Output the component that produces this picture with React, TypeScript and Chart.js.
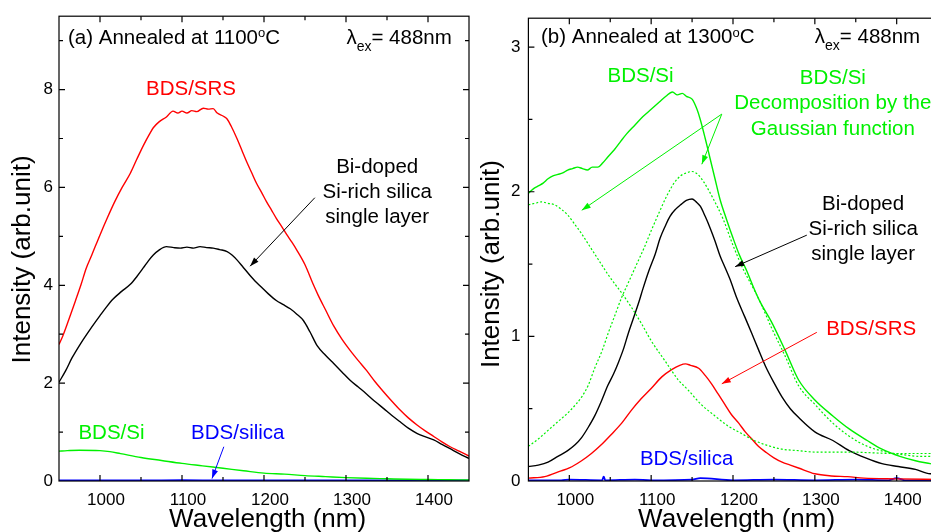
import React, { useEffect, useRef } from 'react';
import { Chart, registerables } from 'chart.js';

Chart.register(...registerables);

// ---------------- data ----------------
const xTicks = [1000, 1100, 1200, 1300, 1400];
const xMinorTicks = [950, 1050, 1150, 1250, 1350, 1450];
const leftYTicks = [0, 2, 4, 6, 8];
const leftYMinorTicks = [1, 3, 5, 7, 9];
const rightYTicks = [0, 1, 2, 3];
const rightYMinorTicks = [0.5, 1.5, 2.5];

// panel (a) annealed at 1100 C
const aRedX = [950,955,962,970,977,983,990,1000,1009,1018,1027,1037,1045,1053,1060,1065,1072,1081,1089,1095,1100,1106,1112,1118,1126,1132,1138,1143,1150,1155,1160,1167,1173,1179,1185,1191,1197,1203,1209,1215,1222,1228,1234,1240,1250,1260,1266,1275,1285,1295,1305,1315,1325,1335,1346,1356,1366,1376,1387,1397,1407,1417,1427,1438,1450];
const aRedY = [2.79,2.98,3.30,3.68,4.02,4.34,4.62,5.03,5.38,5.71,6.00,6.29,6.58,6.86,7.08,7.22,7.34,7.44,7.56,7.52,7.56,7.52,7.57,7.55,7.62,7.60,7.61,7.52,7.46,7.40,7.25,7.00,6.76,6.52,6.30,6.08,5.90,5.71,5.54,5.37,5.19,5.03,4.88,4.72,4.42,4.02,3.80,3.50,3.17,2.90,2.67,2.46,2.26,2.04,1.82,1.63,1.45,1.29,1.14,1.02,0.91,0.80,0.70,0.61,0.51];

const aBlkX = [950,958,966,976,988,1000,1008,1016,1026,1037,1045,1053,1059,1065,1072,1081,1090,1098,1106,1114,1122,1130,1138,1146,1155,1161,1167,1175,1183,1189,1195,1205,1215,1223,1232,1240,1248,1256,1265,1275,1285,1295,1305,1315,1325,1335,1346,1356,1366,1376,1387,1397,1407,1417,1427,1438,1450];
const aBlkY = [2.02,2.25,2.52,2.80,3.10,3.38,3.56,3.72,3.87,4.02,4.18,4.36,4.50,4.62,4.72,4.79,4.77,4.76,4.78,4.76,4.79,4.77,4.76,4.73,4.69,4.62,4.52,4.36,4.20,4.09,3.99,3.83,3.69,3.61,3.52,3.41,3.28,3.05,2.76,2.57,2.40,2.23,2.06,1.92,1.78,1.63,1.48,1.34,1.21,1.08,0.97,0.90,0.84,0.75,0.66,0.56,0.46];

const aGrnX = [950,960,975,1000,1012,1025,1050,1075,1100,1125,1150,1175,1200,1225,1250,1275,1300,1325,1350,1375,1400,1425,1450];
const aGrnY = [0.61,0.62,0.63,0.62,0.60,0.56,0.48,0.42,0.36,0.31,0.26,0.21,0.16,0.14,0.11,0.09,0.07,0.055,0.045,0.035,0.03,0.025,0.02];

const aBluX = [950,1000,1050,1100,1150,1200,1250,1300,1350,1400,1450];
const aBluY = [0.01,0.012,0.01,0.015,0.01,0.012,0.01,0.01,0.012,0.01,0.01];

// panel (b) annealed at 1300 C
const bGrnX = [950,956,962,968,974,980,986,992,998,1004,1010,1016,1022,1028,1035,1041,1047,1055,1063,1070,1080,1090,1100,1110,1118,1126,1132,1138,1143,1150,1156,1160,1166,1172,1178,1184,1192,1200,1208,1217,1225,1233,1247,1264,1280,1300,1322,1342,1364,1382,1404,1423,1441,1450];
const bGrnY = [1.99,2.02,2.04,2.06,2.09,2.11,2.12,2.13,2.15,2.16,2.17,2.16,2.15,2.17,2.17,2.20,2.24,2.29,2.35,2.40,2.46,2.52,2.57,2.62,2.66,2.69,2.67,2.68,2.66,2.64,2.57,2.50,2.37,2.23,2.09,1.95,1.81,1.68,1.56,1.45,1.34,1.24,1.10,0.90,0.70,0.56,0.45,0.36,0.28,0.22,0.17,0.14,0.12,0.11];

const bG1X = [950,958,966,974,982,990,998,1006,1015,1023,1031,1039,1047,1056,1064,1076,1088,1100,1117,1133,1145,1161,1178,1194,1210,1226,1240,1260,1280,1300,1340,1400,1450];
const bG1Y = [1.91,1.92,1.93,1.92,1.91,1.88,1.84,1.78,1.71,1.64,1.57,1.50,1.43,1.36,1.30,1.20,1.09,0.97,0.83,0.70,0.63,0.53,0.45,0.38,0.33,0.28,0.25,0.22,0.21,0.20,0.20,0.19,0.19];

const bG2X = [950,962,974,986,998,1008,1015,1023,1031,1040,1048,1056,1064,1072,1084,1092,1100,1110,1119,1128,1136,1143,1150,1157,1164,1176,1188,1200,1212,1225,1233,1247,1264,1280,1300,1322,1342,1364,1388,1410,1430,1450];
const bG2Y = [0.24,0.29,0.35,0.41,0.47,0.53,0.58,0.66,0.78,0.90,1.03,1.15,1.27,1.37,1.52,1.62,1.73,1.86,1.97,2.06,2.11,2.13,2.14,2.12,2.07,1.95,1.81,1.63,1.47,1.33,1.24,1.06,0.86,0.66,0.53,0.40,0.31,0.24,0.20,0.18,0.17,0.17];

const bBlkX = [950,962,974,986,998,1007,1015,1023,1031,1039,1047,1054,1060,1066,1072,1078,1084,1090,1097,1105,1111,1117,1123,1130,1136,1143,1150,1155,1160,1166,1172,1178,1184,1190,1196,1205,1214,1223,1231,1240,1250,1260,1270,1280,1300,1322,1342,1362,1382,1402,1423,1441,1450];
const bBlkY = [0.10,0.11,0.13,0.17,0.21,0.25,0.30,0.37,0.45,0.55,0.66,0.74,0.82,0.91,1.02,1.12,1.22,1.33,1.45,1.57,1.68,1.76,1.83,1.88,1.91,1.94,1.95,1.93,1.90,1.83,1.75,1.66,1.56,1.48,1.40,1.26,1.14,1.02,0.91,0.79,0.68,0.58,0.50,0.44,0.34,0.28,0.21,0.16,0.12,0.10,0.08,0.05,0.05];

const bRedX = [950,970,990,1000,1015,1027,1039,1051,1064,1076,1088,1100,1113,1125,1135,1142,1148,1158,1166,1174,1182,1190,1198,1207,1215,1223,1231,1240,1250,1260,1270,1280,1300,1320,1340,1360,1400,1450];
const bRedY = [0.02,0.03,0.07,0.09,0.14,0.19,0.25,0.32,0.40,0.49,0.57,0.64,0.72,0.77,0.80,0.81,0.80,0.78,0.73,0.67,0.60,0.53,0.46,0.40,0.34,0.29,0.24,0.20,0.16,0.13,0.11,0.09,0.05,0.035,0.03,0.02,0.015,0.01];

const bBluX = [950,990,1000,1040,1042,1044,1080,1100,1150,1160,1200,1250,1300,1350,1390,1400,1410,1450];
const bBluY = [0.005,0.005,0.01,0.005,0.03,0.005,0.01,0.005,0.01,0.02,0.005,0.01,0.005,0.01,0.005,0.02,0.005,0.005];

// ---------------- styling ----------------
const FONT = "'Liberation Sans', Arial, Helvetica, sans-serif";
const RED = '#ff0000';
const GREEN = '#00f000';
const BLUE = '#0000ff';
const BLACK = '#000000';
const NOTE_SIZE = 20.5;

const pts = (xs: number[], ys: number[]) => {
  const n = Math.min(xs.length, ys.length);
  const out: { x: number; y: number }[] = [];
  for (let i = 0; i < n; i++) out.push({ x: xs[i], y: ys[i] });
  return out;
};

const line = (label: string, xs: number[], ys: number[], color: string, dash: number[] = [], width = 1.4) => ({
  label,
  data: pts(xs, ys),
  borderColor: color,
  backgroundColor: color,
  borderWidth: width,
  borderDash: dash,
  pointRadius: 0,
  fill: false,
  cubicInterpolationMode: 'monotone' as const,
});

type Seg = { t: string; mode?: 'sup' | 'sub' };
type Note = { lines: (string | Seg[])[]; x: number; y: number; align: 'left' | 'center' | 'right'; color: string; lh?: number };
type Arrow = { from: [number, number]; to: [number, number]; color: string };

const leftNotes: Note[] = [
  { lines: [[{ t: '(a) Annealed at 1100' }, { t: 'o', mode: 'sup' }, { t: 'C' }]], x: 961, y: 9.05, align: 'left', color: BLACK },
  { lines: [[{ t: 'λ' }, { t: 'ex', mode: 'sub' }, { t: '= 488nm' }]], x: 1429, y: 9.05, align: 'right', color: BLACK },
  { lines: ['BDS/SRS'], x: 1111, y: 8.01, align: 'center', color: RED },
  { lines: ['Bi-doped', 'Si-rich silica', 'single layer'], x: 1338, y: 6.42, align: 'center', color: BLACK, lh: 25 },
  { lines: ['BDS/Si'], x: 1014, y: 0.98, align: 'center', color: GREEN },
  { lines: ['BDS/silica'], x: 1168, y: 0.98, align: 'center', color: BLUE },
];
const leftArrows: Arrow[] = [
  { from: [1262, 5.79], to: [1183, 4.39], color: BLACK },
  { from: [1151, 0.7], to: [1136.6, 0.05], color: BLUE },
];

const rightNotes: Note[] = [
  { lines: [[{ t: '(b) Annealed at 1300' }, { t: 'o', mode: 'sup' }, { t: 'C' }]], x: 965.4, y: 3.065, align: 'left', color: BLACK },
  { lines: [[{ t: 'λ' }, { t: 'ex', mode: 'sub' }, { t: '= 488nm' }]], x: 1428.7, y: 3.065, align: 'right', color: BLACK },
  { lines: ['BDS/Si'], x: 1087, y: 2.8, align: 'center', color: GREEN },
  { lines: ['BDS/Si', 'Decomposition by the', 'Gaussian function'], x: 1322, y: 2.786, align: 'center', color: GREEN, lh: 25.5 },
  { lines: ['Bi-doped', 'Si-rich silica', 'single layer'], x: 1359, y: 1.912, align: 'center', color: BLACK, lh: 25 },
  { lines: ['BDS/SRS'], x: 1368.8, y: 1.05, align: 'center', color: RED },
  { lines: ['BDS/silica'], x: 1143.3, y: 0.149, align: 'center', color: BLUE },
];
const rightArrows: Arrow[] = [
  { from: [1186.3, 2.537], to: [1015.2, 1.872], color: GREEN },
  { from: [1186.3, 2.537], to: [1161.9, 2.19], color: GREEN },
  { from: [1290.2, 1.7], to: [1202.6, 1.482], color: BLACK },
  { from: [1302.4, 1.028], to: [1186.3, 0.672], color: RED },
];

// ---------------- plugins ----------------
const frameTicks = {
  id: 'frameTicks',
  afterDraw(chart: any, _a: any, o: any) {
    const { ctx, chartArea: a } = chart;
    const sx = chart.scales.x;
    const sy = chart.scales.y;
    ctx.save();
    ctx.strokeStyle = '#000';
    ctx.lineWidth = 1.2;
    ctx.beginPath();
    const xt = (vals: number[], len: number) => {
      for (const v of vals) {
        const p = sx.getPixelForValue(v);
        if (p < a.left + 0.5 || p > a.right - 0.5) continue;
        ctx.moveTo(p, a.bottom); ctx.lineTo(p, a.bottom - len);
        ctx.moveTo(p, a.top); ctx.lineTo(p, a.top + len);
      }
    };
    const yt = (vals: number[], len: number) => {
      for (const v of vals) {
        const p = sy.getPixelForValue(v);
        if (p < a.top + 0.5 || p > a.bottom - 0.5) continue;
        ctx.moveTo(a.left, p); ctx.lineTo(a.left + len, p);
        ctx.moveTo(a.right, p); ctx.lineTo(a.right - len, p);
      }
    };
    xt(o.xMajor, 6); xt(o.xMinor, 4);
    yt(o.yMajor, 6); yt(o.yMinor, 4);
    ctx.stroke();
    ctx.strokeRect(a.left, a.top, a.right - a.left, a.bottom - a.top);
    ctx.restore();
  },
};

const segFont = (s: Seg) => {
  if (s.mode === 'sup') return `13px ${FONT}`;
  if (s.mode === 'sub') return `14px ${FONT}`;
  return `${NOTE_SIZE}px ${FONT}`;
};
const segOff = (s: Seg) => (s.mode === 'sup' ? -4.6 : s.mode === 'sub' ? 8.7 : 0);

const notesPlugin = {
  id: 'notes',
  afterDraw(chart: any, _a: any, o: any) {
    const { ctx } = chart;
    const sx = chart.scales.x;
    const sy = chart.scales.y;
    ctx.save();
    ctx.textBaseline = 'middle';
    ctx.textAlign = 'left';
    for (const n of o.texts as Note[]) {
      const px = sx.getPixelForValue(n.x);
      const py = sy.getPixelForValue(n.y);
      n.lines.forEach((ln, i) => {
        const segs: Seg[] = typeof ln === 'string' ? [{ t: ln }] : ln;
        const y = py + i * (n.lh || 25);
        let w = 0;
        const ws = segs.map((s) => { ctx.font = segFont(s); const m = ctx.measureText(s.t).width; w += m; return m; });
        let x = n.align === 'left' ? px : n.align === 'right' ? px - w : px - w / 2;
        segs.forEach((s, k) => {
          ctx.font = segFont(s);
          ctx.fillStyle = n.color;
          ctx.fillText(s.t, x, y + segOff(s));
          x += ws[k];
        });
      });
    }
    for (const ar of o.arrows as Arrow[]) {
      const x1 = sx.getPixelForValue(ar.from[0]);
      const y1 = sy.getPixelForValue(ar.from[1]);
      const x2 = sx.getPixelForValue(ar.to[0]);
      const y2 = sy.getPixelForValue(ar.to[1]);
      ctx.strokeStyle = ar.color;
      ctx.fillStyle = ar.color;
      ctx.lineWidth = 1;
      ctx.beginPath(); ctx.moveTo(x1, y1); ctx.lineTo(x2, y2); ctx.stroke();
      const ang = Math.atan2(y2 - y1, x2 - x1);
      const L = 9, W = 3;
      const c = Math.cos(ang), s = Math.sin(ang);
      ctx.beginPath();
      ctx.moveTo(x2, y2);
      ctx.lineTo(x2 - L * c + W * s, y2 - L * s - W * c);
      ctx.lineTo(x2 - L * c - W * s, y2 - L * s + W * c);
      ctx.closePath();
      ctx.fill();
    }
    ctx.restore();
  },
};

// ---------------- config ----------------
function buildConfig(p: {
  datasets: any[]; yMax: number; yTicks: number[]; yMinor: number[]; yWidth: number; yPad: number;
  yTitle: string; yTitlePad: number; rightPad: number; notes: Note[]; arrows: Arrow[];
}): any {
  return {
    type: 'line',
    data: { datasets: p.datasets },
    options: {
      animation: false,
      responsive: false,
      devicePixelRatio: 1,
      layout: { padding: { left: 0, top: 14, right: p.rightPad, bottom: 0 } },
      plugins: {
        legend: { display: false },
        tooltip: { enabled: false },
        frameTicks: { xMajor: xTicks, xMinor: xMinorTicks, yMajor: p.yTicks, yMinor: p.yMinor },
        notes: { texts: p.notes, arrows: p.arrows },
      },
      scales: {
        x: {
          type: 'linear',
          min: 950,
          max: 1450,
          afterBuildTicks: (s: any) => { s.ticks = xTicks.map((v) => ({ value: v })); },
          afterFit: (s: any) => { s.height = 51; },
          grid: { display: false, drawTicks: false },
          border: { display: false },
          ticks: {
            color: '#000', font: { family: FONT, size: 17 }, padding: 8.8, labelOffset: 6, maxRotation: 0, autoSkip: false,
            callback: (v: any) => String(v),
          },
          title: { display: true, text: ' Wavelength (nm)', color: '#000', font: { family: FONT, size: 26 }, padding: { top: 0, bottom: -3.1 } },
        },
        y: {
          type: 'linear',
          min: 0,
          max: p.yMax,
          afterBuildTicks: (s: any) => { s.ticks = p.yTicks.map((v) => ({ value: v })); },
          afterFit: (s: any) => { s.width = p.yWidth; },
          grid: { display: false, drawTicks: false },
          border: { display: false },
          ticks: { color: '#000', font: { family: FONT, size: 17 }, padding: p.yPad, autoSkip: false, callback: (v: any) => String(v) },
          title: { display: true, text: p.yTitle, color: '#000', font: { family: FONT, size: 26 }, padding: { top: p.yTitlePad, bottom: 0 } },
        },
      },
    },
    plugins: [frameTicks, notesPlugin],
  };
}

export default function App() {
  const leftRef = useRef<HTMLCanvasElement>(null);
  const rightRef = useRef<HTMLCanvasElement>(null);

  useEffect(() => {
    const left = new Chart(leftRef.current as HTMLCanvasElement, buildConfig({
      datasets: [
        line('BDS/Si', aGrnX, aGrnY, GREEN),
        line('BDS/silica', aBluX, aBluY, BLUE, [], 2),
        line('Bi-doped Si-rich silica single layer', aBlkX, aBlkY, BLACK),
        line('BDS/SRS', aRedX, aRedY, RED),
      ],
      yMax: 9.5, yTicks: leftYTicks, yMinor: leftYMinorTicks, yWidth: 59, yPad: 6,
      yTitle: 'Intensity (arb.unit)   ', yTitlePad: 7.4, rightPad: 1,
      notes: leftNotes, arrows: leftArrows,
    }));
    const right = new Chart(rightRef.current as HTMLCanvasElement, buildConfig({
      datasets: [
        line('BDS/Si Gaussian 1', bG1X, bG1Y, GREEN, [2, 2], 1.2),
        line('BDS/Si Gaussian 2', bG2X, bG2Y, GREEN, [2, 2], 1.2),
        line('BDS/Si', bGrnX, bGrnY, GREEN),
        line('Bi-doped Si-rich silica single layer', bBlkX, bBlkY, BLACK),
        line('BDS/SRS', bRedX, bRedY, RED),
        line('BDS/silica', bBluX, bBluY, BLUE, [], 1.8),
      ],
      yMax: 3.2, yTicks: rightYTicks, yMinor: rightYMinorTicks, yWidth: 58.4, yPad: 8,
      yTitle: 'Intensity (arb.unit)    ', yTitlePad: 6.4, rightPad: 2.4,
      notes: rightNotes, arrows: rightArrows,
    }));
    return () => { left.destroy(); right.destroy(); };
  }, []);

  return (
    <div style={{ position: 'fixed', left: 0, top: 0, width: 931, height: 532, overflow: 'hidden', background: '#fff' }}>
      <canvas ref={leftRef} width={470} height={532} style={{ position: 'absolute', left: 0, top: 0 }} />
      <canvas ref={rightRef} width={470} height={532} style={{ position: 'absolute', left: 470, top: 0 }} />
    </div>
  );
}
